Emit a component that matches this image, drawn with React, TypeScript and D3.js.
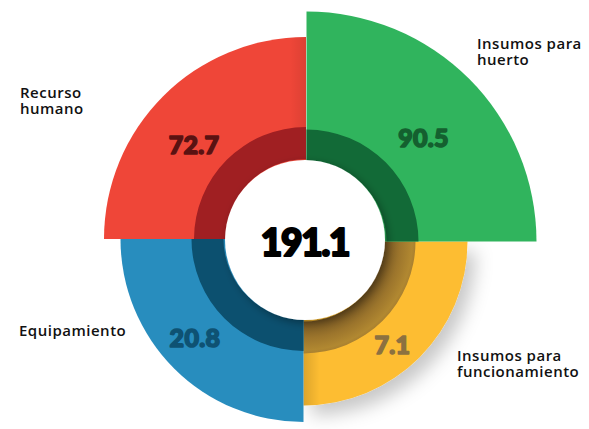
import React from "react";
import * as d3 from "d3";

// ---- data ----
const categories = [
  "Insumos para huerto",
  "Insumos para funcionamiento",
  "Equipamiento",
  "Recurso humano",
];
const values = [90.5, 7.1, 20.8, 72.7];
const labelLines = [
  ["Insumos para", "huerto"],
  ["Insumos para", "funcionamiento"],
  ["Equipamiento"],
  ["Recurso", "humano"],
];

// ---- style ----
const W = 589;
const H = 429;
const CX = 305;
const CY = 240;
const colors = ["#30B45D", "#FDBD30", "#288DBE", "#EF4638"];
const ringColors = ["#126A37", "url(#ringYellow)", "#0C506F", "#A01F22"];
const valueColors = ["#14602F", "#8C7140", "#0E5273", "#5A1212"];
// small per-quadrant nudges seen in the original artwork
const nudges = [
  [1.5, 1.5],
  [-1.5, 1.5],
  [-1.5, -1],
  [1, -1],
];
// value label placement (polar, degrees clockwise from 12 o'clock)
const valueLabelPolar = [
  [49, 157],
  [140, 136],
  [228.5, 147],
  [311, 147],
];
// category label anchors
const catLabelPos = [
  { x: 477, y: 49 },
  { x: 457, y: 361 },
  { x: 19, y: 336 },
  { x: 20, y: 98 },
];

const RING_OUT = 112;
const RING_IN = 80;

export default function App() {
  const sorted = d3.sort(values);
  const rScale = d3
    .scaleLinear()
    .domain(sorted)
    .range([164, 183, 202, 230]);

  const quarter = Math.PI / 2;
  const pieces = values.map((v, i) => ({
    cat: categories[i],
    value: v,
    startAngle: i * quarter,
    endAngle: (i + 1) * quarter,
    r: rScale(v),
  }));

  const outerArc = d3
    .arc<any>()
    .innerRadius(0)
    .outerRadius((d: any) => d.r)
    .startAngle((d: any) => d.startAngle)
    .endAngle((d: any) => d.endAngle);

  const ringArc = d3
    .arc<any>()
    .innerRadius(RING_IN)
    .outerRadius(RING_OUT)
    .startAngle((d: any) => d.startAngle)
    .endAngle((d: any) => d.endAngle);

  const total = d3.sum(values);
  const fmt = d3.format(".1f");

  const numFont = "Lato, 'DejaVu Sans', sans-serif";
  const labelFont = "'Open Sans', 'Noto Sans', sans-serif";

  const order = [1, 2, 3, 0]; // draw yellow first (shadow underneath others)

  return (
    <svg
      width={W}
      height={H}
      viewBox={`0 0 ${W} ${H}`}
      style={{ position: "absolute", left: 0, top: 0, background: "#fff" }}
    >
      <defs>
        <filter id="shadowY" x="-30%" y="-30%" width="160%" height="160%">
          <feDropShadow dx="8" dy="10" stdDeviation="9" floodColor="#000" floodOpacity="0.22" />
        </filter>
        <filter id="shadowC" x="-30%" y="-30%" width="160%" height="160%">
          <feDropShadow dx="3" dy="3" stdDeviation="4" floodColor="#000" floodOpacity="0.35" />
        </filter>
        <radialGradient id="ringYellow" gradientUnits="userSpaceOnUse" cx={0} cy={0} r={RING_OUT}>
          <stop offset="0.70" stopColor="#6E5020" />
          <stop offset="0.86" stopColor="#9C752C" />
          <stop offset="0.97" stopColor="#B18831" />
          <stop offset="1" stopColor="#A98030" />
        </radialGradient>
        <linearGradient id="yLeftShade" gradientUnits="userSpaceOnUse" x1={0} y1={0} x2={16} y2={0}>
          <stop offset="0" stopColor="#000" stopOpacity="0.13" />
          <stop offset="1" stopColor="#000" stopOpacity="0" />
        </linearGradient>
        <linearGradient id="rRightShade" gradientUnits="userSpaceOnUse" x1={0} y1={0} x2={-16} y2={0}>
          <stop offset="0" stopColor="#000" stopOpacity="0.08" />
          <stop offset="1" stopColor="#000" stopOpacity="0" />
        </linearGradient>
      </defs>

      <g transform={`translate(${CX},${CY})`}>
        {order.map((i) => {
          const d = pieces[i];
          const [nx, ny] = nudges[i];
          return (
            <g key={d.cat} transform={`translate(${nx},${ny})`}>
              <path
                d={outerArc(d) as string}
                fill={colors[i]}
                filter={i === 1 ? "url(#shadowY)" : undefined}
              />
              {i === 1 && <path d={outerArc(d) as string} fill="url(#yLeftShade)" />}
              {i === 3 && <path d={outerArc(d) as string} fill="url(#rRightShade)" />}
              <path d={ringArc(d) as string} fill={ringColors[i]} />
            </g>
          );
        })}

        <circle r={RING_IN} fill="#fff" filter="url(#shadowC)" />

        {pieces.map((d, i) => {
          const [deg, rr] = valueLabelPolar[i];
          const a = (deg * Math.PI) / 180;
          const x = Math.sin(a) * rr;
          const y = -Math.cos(a) * rr;
          return (
            <text
              key={d.cat}
              x={x}
              y={y}
              textAnchor="middle"
              dominantBaseline="central"
              fontFamily={numFont}
              fontWeight={900}
              fontSize={25}
              letterSpacing={0.3}
              fill={valueColors[i]}
              stroke={valueColors[i]}
              strokeWidth={1.6}
              strokeLinejoin="round"
            >
              {fmt(d.value)}
            </text>
          );
        })}

        <text
          x={0}
          y={1}
          textAnchor="middle"
          dominantBaseline="central"
          fontFamily={numFont}
          fontWeight={900}
          fontSize={37}
          letterSpacing={-1.2}
          fill="#000"
          stroke="#000"
          strokeWidth={2.2}
          strokeLinejoin="round"
        >
          {fmt(total)}
        </text>
      </g>

      {labelLines.map((lines, i) => (
        <text
          key={categories[i]}
          x={catLabelPos[i].x}
          y={catLabelPos[i].y}
          fontFamily={labelFont}
          fontWeight={600}
          fontSize={15}
          letterSpacing={0.5}
          fill="#111"
        >
          {lines.map((ln, j) => (
            <tspan key={j} x={catLabelPos[i].x} dy={j === 0 ? 0 : 16}>
              {ln}
            </tspan>
          ))}
        </text>
      ))}
    </svg>
  );
}
